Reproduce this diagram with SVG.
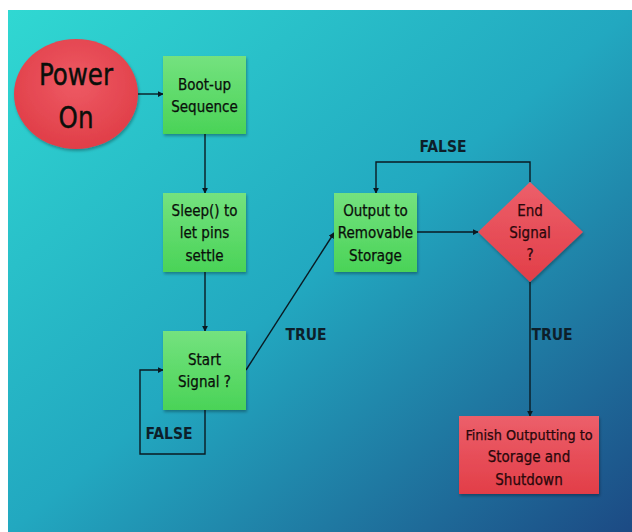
<svg xmlns="http://www.w3.org/2000/svg" width="632" height="532" viewBox="0 0 632 532">
<defs>
<linearGradient id="bg" x1="0" y1="0" x2="1" y2="1">
<stop offset="0" stop-color="#30d8d2"/>
<stop offset="0.5" stop-color="#22a8c0"/>
<stop offset="1" stop-color="#1c4a84"/>
</linearGradient>
<linearGradient id="green" x1="0" y1="0" x2="0" y2="1">
<stop offset="0" stop-color="#74e27f"/>
<stop offset="1" stop-color="#4ad357"/>
</linearGradient>
<linearGradient id="red" x1="0" y1="0" x2="0" y2="1">
<stop offset="0" stop-color="#ec5f6a"/>
<stop offset="1" stop-color="#e23e48"/>
</linearGradient>
<radialGradient id="redc" cx="0.5" cy="0.4" r="0.6">
<stop offset="0" stop-color="#ee5a64"/>
<stop offset="1" stop-color="#e03e48"/>
</radialGradient>
<filter id="sh" x="-10%" y="-10%" width="130%" height="130%">
<feDropShadow dx="1" dy="2" stdDeviation="1.5" flood-color="#000" flood-opacity="0.3"/>
</filter>
<marker id="arr" viewBox="0 0 8 8" refX="7" refY="4" markerWidth="6" markerHeight="6" orient="auto" markerUnits="userSpaceOnUse">
<path d="M0,0 L8,4 L0,8 z" fill="#0a1a22"/>
</marker>
</defs>
<style>
.g{fill:url(#green);filter:url(#sh)}
.r{fill:url(#red);filter:url(#sh)}
.t{font-family:"DejaVu Sans Condensed","Liberation Sans Narrow","DejaVu Sans",sans-serif;font-stretch:condensed;font-size:15px;fill:#0a0f0a;text-anchor:middle;stroke:#0a0f0a;stroke-width:0.25}
.tr{fill:#2a080b;stroke:#2a080b}
.big{font-size:31px;stroke-width:0.4}
.lbl{font-family:"DejaVu Sans Condensed","Liberation Sans Narrow","DejaVu Sans",sans-serif;font-stretch:condensed;font-weight:bold;font-size:15.5px;fill:#0d1f2a;text-anchor:middle}
.c{fill:none;stroke:#0a1a22;stroke-width:1.4}
</style>
<rect x="0" y="0" width="632" height="532" fill="#ffffff"/>
<rect x="8" y="10" width="624" height="522" fill="url(#bg)"/>

<g id="connectors">
<line class="c" x1="138" y1="94" x2="163" y2="94" marker-end="url(#arr)"/>
<line class="c" x1="205" y1="134" x2="205" y2="193" marker-end="url(#arr)"/>
<line class="c" x1="205" y1="272" x2="205" y2="331" marker-end="url(#arr)"/>
<polyline class="c" points="205,410 205,454 140,454 140,370 163,370" marker-end="url(#arr)"/>
<line class="c" x1="246" y1="370" x2="334" y2="233" marker-end="url(#arr)"/>
<line class="c" x1="417" y1="232" x2="478" y2="232" marker-end="url(#arr)"/>
<polyline class="c" points="530,182 530,162 376,162 376,193" marker-end="url(#arr)"/>
<line class="c" x1="530" y1="282" x2="530" y2="416" marker-end="url(#arr)"/>
<text class="lbl" x="443" y="152">FALSE</text>
<text class="lbl" x="306" y="340">TRUE</text>
<text class="lbl" x="552" y="340">TRUE</text>
<text class="lbl" x="169" y="439">FALSE</text>
</g>

<g id="power-on">
<ellipse cx="76" cy="94" rx="62" ry="55" fill="url(#redc)" filter="url(#sh)"/>
<text class="t big" transform="translate(76 85) scale(0.88 1)" x="0" y="0">Power</text>
<text class="t big" transform="translate(76 128) scale(0.88 1)" x="0" y="0">On</text>
</g>

<g id="boot-up">
<rect class="g" x="163" y="56" width="83" height="78"/>
<text class="t" x="204.5" y="90">Boot-up</text>
<text class="t" x="204.5" y="112">Sequence</text>
</g>

<g id="sleep">
<rect class="g" x="163" y="193" width="83" height="79"/>
<text class="t" x="204.5" y="216">Sleep() to</text>
<text class="t" x="204.5" y="238">let pins</text>
<text class="t" x="204.5" y="261">settle</text>
</g>

<g id="start-signal">
<rect class="g" x="163" y="331" width="83" height="79"/>
<text class="t" x="204.5" y="365">Start</text>
<text class="t" x="204.5" y="387">Signal ?</text>
</g>

<g id="output">
<rect class="g" x="334" y="193" width="83" height="79"/>
<text class="t" x="375.5" y="216">Output to</text>
<text class="t" x="375.5" y="238">Removable</text>
<text class="t" x="375.5" y="261">Storage</text>
</g>

<g id="end-signal">
<polygon class="r" points="530,182 583,232 530,282 478,232"/>
<text class="t tr" x="530" y="216">End</text>
<text class="t tr" x="530" y="238">Signal</text>
<text class="t tr" x="530" y="260">?</text>
</g>

<g id="finish">
<rect class="r" x="459" y="416" width="140" height="78"/>
<text class="t tr" x="529" y="440" style="font-size:14.3px">Finish Outputting to</text>
<text class="t tr" x="529" y="462">Storage and</text>
<text class="t tr" x="529" y="485">Shutdown</text>
</g>
</svg>
